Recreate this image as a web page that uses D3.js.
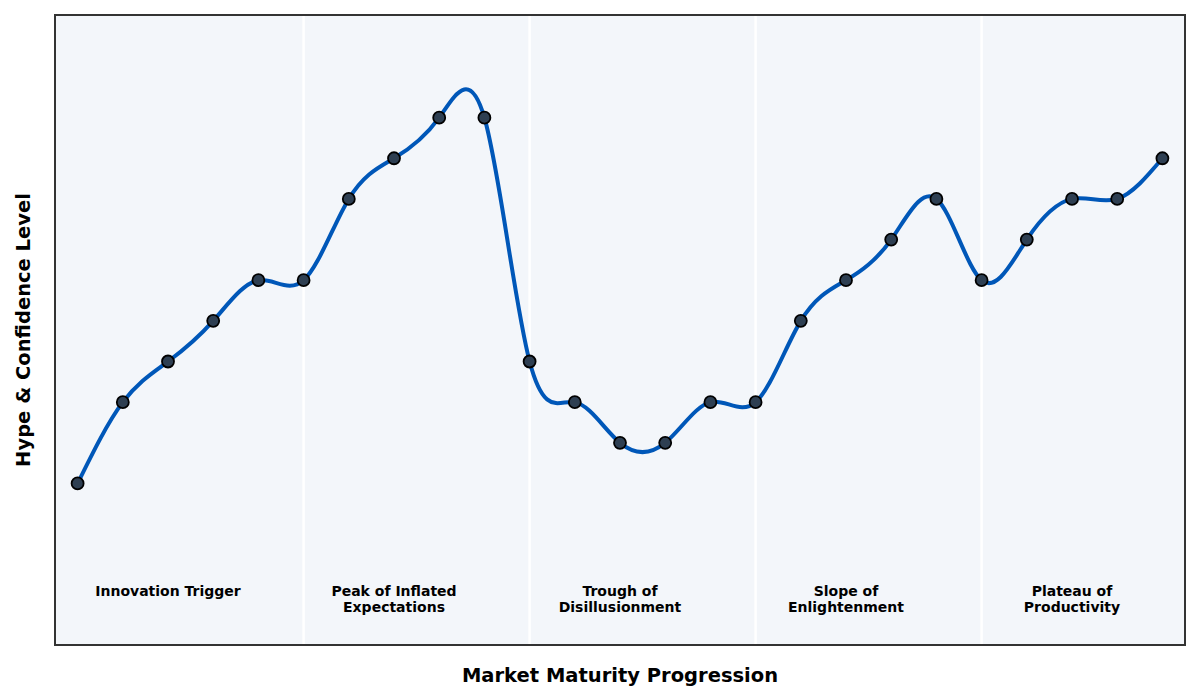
<!DOCTYPE html>
<html lang="en">
<head>
  <meta charset="UTF-8">
  <title>Hype Cycle</title>
  <script src="https://d3js.org/d3.v7.min.js"></script>
  <style>
    body { margin: 0; background: #fff; }
    text { font-family: "DejaVu Sans", sans-serif; }
  </style>
</head>
<body>
  <div class="canvas"></div>
  <script>
    // hype level per step along the maturity axis
    const steps = d3.range(25);
    const hype = [0, 20, 30, 40, 50, 50, 70, 80, 90, 90, 30, 20, 10, 10, 20, 20, 40, 50, 60, 70, 50, 60, 70, 70, 80];
    const phaseNames = [
      ["Innovation Trigger"],
      ["Peak of Inflated", "Expectations"],
      ["Trough of", "Disillusionment"],
      ["Slope of", "Enlightenment"],
      ["Plateau of", "Productivity"]
    ];
    const phaseCenters = [2, 7, 12, 17, 22];
    const phaseBreaks = [5, 10, 15, 20];

    const svgWidth = 1200;
    const svgHeight = 700;
    const margin = { top: 15, right: 15, bottom: 55, left: 55 };
    const graphWidth = svgWidth - margin.left - margin.right;
    const graphHeight = svgHeight - margin.top - margin.bottom;

    const svg = d3.select(".canvas")
      .append("svg")
      .attr("width", svgWidth)
      .attr("height", svgHeight);

    const graph = svg.append("g")
      .attr("transform", `translate(${margin.left}, ${margin.top})`);

    const x = d3.scaleLinear().domain([-0.5, 24.5]).range([0, graphWidth]);
    const y = d3.scaleLinear().domain([-39.75, 115.25]).range([graphHeight, 0]);

    graph.append("rect")
      .attr("width", graphWidth)
      .attr("height", graphHeight)
      .attr("fill", "#f3f6fa");

    graph.selectAll(".divider")
      .data(phaseBreaks)
      .enter()
      .append("line")
      .attr("class", "divider")
      .attr("x1", d => x(d))
      .attr("x2", d => x(d))
      .attr("y1", 0)
      .attr("y2", graphHeight)
      .attr("stroke", "#fff")
      .attr("stroke-width", 2.5);

    const phases = graph.selectAll(".phase")
      .data(phaseNames)
      .enter()
      .append("text")
      .attr("class", "phase")
      .attr("x", (d, i) => x(phaseCenters[i]))
      .attr("y", y(-25))
      .attr("text-anchor", "middle")
      .attr("font-size", 14)
      .attr("font-weight", "bold")
      .attr("fill", "#000");

    phases.selectAll("tspan")
      .data(d => d)
      .enter()
      .append("tspan")
      .attr("x", function() { return this.parentNode.getAttribute("x"); })
      .attr("dy", (d, i) => i === 0 ? "0.75em" : "1.15em")
      .text(d => d);

    const points = steps.map((s, i) => ({ step: s, hype: hype[i] }));

    const line = d3.line()
      .x(d => x(d.step))
      .y(d => y(d.hype))
      .curve(d3.curveNatural);

    graph.append("path")
      .datum(points)
      .attr("fill", "none")
      .attr("stroke", "#0057b8")
      .attr("stroke-width", 4)
      .attr("stroke-linejoin", "round")
      .attr("d", line);

    graph.selectAll("circle")
      .data(points)
      .enter()
      .append("circle")
      .attr("cx", d => x(d.step))
      .attr("cy", d => y(d.hype))
      .attr("r", 6)
      .attr("fill", "#2e3f52")
      .attr("stroke", "#000")
      .attr("stroke-width", 1.8);

    graph.append("rect")
      .attr("width", graphWidth)
      .attr("height", graphHeight)
      .attr("fill", "none")
      .attr("stroke", "#333")
      .attr("stroke-width", 2);

    svg.append("text")
      .attr("x", margin.left + graphWidth / 2)
      .attr("y", 682)
      .attr("text-anchor", "middle")
      .attr("font-size", 19.5)
      .attr("font-weight", "bold")
      .text("Market Maturity Progression");

    svg.append("text")
      .attr("transform", `translate(30, ${margin.top + graphHeight / 2}) rotate(-90)`)
      .attr("text-anchor", "middle")
      .attr("font-size", 19.5)
      .attr("font-weight", "bold")
      .text("Hype & Confidence Level");
  </script>
</body>
</html>
